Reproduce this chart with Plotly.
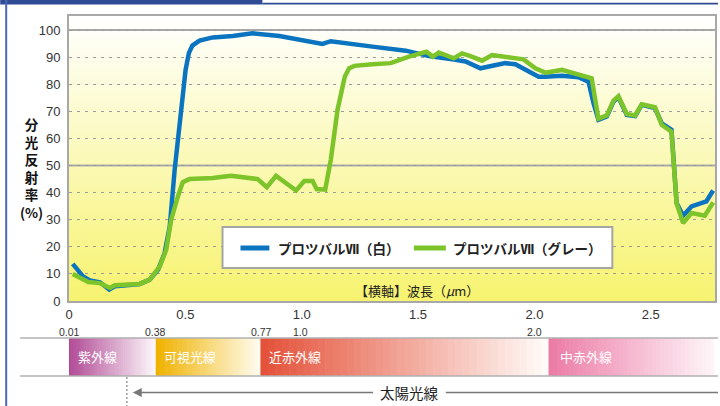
import plotly.graph_objects as go

# ---------------- data ----------------
wavelength_white = [0.016, 0.06, 0.09, 0.133, 0.173, 0.197, 0.247, 0.304, 0.347, 0.383, 0.411, 0.433,
                    0.454, 0.476, 0.501, 0.515, 0.53, 0.561, 0.618, 0.704, 0.789, 0.904, 1.004, 1.089,
                    1.125, 1.204, 1.304, 1.447, 1.547, 1.647, 1.704, 1.768, 1.818, 1.875, 1.918, 1.961,
                    2.018, 2.047, 2.118, 2.189, 2.232, 2.254, 2.275, 2.311, 2.34, 2.361, 2.397, 2.433,
                    2.461, 2.518, 2.547, 2.589, 2.611, 2.639, 2.675, 2.739, 2.768]
reflect_white = [13.7, 9.1, 7.6, 6.9, 4.2, 5.4, 5.8, 6.3, 7.9, 11.6, 17.7, 27.5,
                 48.4, 66.9, 85.3, 91.5, 94.3, 96.1, 97.3, 97.8, 98.8, 97.8, 96.3, 94.9,
                 95.9, 94.9, 93.9, 92.4, 90.4, 89.2, 88.4, 85.9, 86.8, 87.8, 87.4, 85.3,
                 82.8, 82.8, 83.1, 82.6, 81.0, 73.0, 66.9, 68.1, 73.6, 75.2, 68.7, 68.3,
                 72.4, 71.2, 65.6, 63.2, 36.2, 31.5, 34.9, 36.8, 40.8]

wavelength_gray = [0.016, 0.083, 0.133, 0.176, 0.197, 0.304, 0.347, 0.39, 0.418, 0.439, 0.468, 0.489,
                   0.518, 0.618, 0.696, 0.775, 0.811, 0.85, 0.89, 0.976, 1.011, 1.047, 1.064, 1.101,
                   1.125, 1.154, 1.185, 1.204, 1.226, 1.304, 1.382, 1.461, 1.536, 1.564, 1.589, 1.654,
                   1.689, 1.725, 1.775, 1.818, 1.953, 2.004, 2.047, 2.118, 2.204, 2.246, 2.275, 2.311,
                   2.34, 2.361, 2.397, 2.433, 2.461, 2.518, 2.547, 2.589, 2.611, 2.639, 2.675, 2.732, 2.768]
reflect_gray = [10.0, 7.0, 6.6, 4.8, 5.8, 6.3, 7.9, 12.8, 19.0, 30.0, 38.6, 43.9,
                45.0, 45.4, 46.2, 45.2, 45.0, 42.0, 46.2, 40.8, 44.3, 44.3, 41.3, 41.1,
                52.1, 70.6, 82.8, 85.9, 86.8, 87.4, 87.8, 90.2, 92.0, 90.2, 91.7, 89.6,
                91.4, 90.4, 88.7, 90.8, 89.2, 85.9, 84.3, 85.3, 83.4, 82.2, 67.3, 68.5,
                74.0, 75.6, 69.0, 68.5, 72.6, 71.5, 65.0, 62.5, 36.0, 28.8, 32.5, 31.5, 36.4]

series_names = ["プロツバルⅦ（白）", "プロツバルⅦ（グレー）"]
xtick_vals = [0, 0.5, 1.0, 1.5, 2.0, 2.5]
xtick_text = ["0", "0.5", "1.0", "1.5", "2.0", "2.5"]
ytick_vals = [0, 10, 20, 30, 40, 50, 60, 70, 80, 90, 100]
ytitle_chars = ["分", "光", "反", "射", "率", "(%)"]
band_names = ["紫外線", "可視光線", "近赤外線", "中赤外線"]
band_edge_labels = ["0.01", "0.38", "0.77", "1.0", "2.0"]
solar_label = "太陽光線"
xtitle = "【横軸】波長（<i>μ</i>m）"

# ---------------- layout geometry ----------------
W, H = 720, 406
L, R, T, B = 69, 3, 16, 105
PW, PH = W - L - R, H - T - B


def px(x):
    return (x - L) / PW


def py(y):
    return (H - B - y) / PH


JP = "Liberation Sans, Noto Sans CJK JP, sans-serif"
JPB = "Noto Sans CJK JP, sans-serif"

fig = go.Figure()
fig.add_trace(go.Scatter(x=wavelength_white, y=reflect_white, mode="lines", name=series_names[0],
                         line=dict(color="#0b74c0", width=4.5), showlegend=False))
fig.add_trace(go.Scatter(x=wavelength_gray, y=reflect_gray, mode="lines", name=series_names[1],
                         line=dict(color="#7dc32a", width=4.5), showlegend=False))

shapes = []


def lerp(c0, c1, t):
    return "rgb(%d,%d,%d)" % tuple(round(a + (b - a) * t) for a, b in zip(c0, c1))


# plot background vertical gradient
n = 80
for i in range(n):
    t = i / (n - 1)
    y0 = i / n
    y1 = (i + 1) / n + 0.004
    shapes.append(dict(type="rect", xref="paper", yref="paper", x0=0, x1=1, y0=y0, y1=min(y1, 1),
                       fillcolor=lerp((247, 243, 112), (255, 255, 255), t), line=dict(width=0),
                       layer="below"))
# solid gridlines at 50 and 100
for v in (50, 100):
    shapes.append(dict(type="line", xref="paper", yref="y", x0=0, x1=1, y0=v, y1=v,
                       line=dict(color="#a9a9a9", width=2), layer="below"))

# spectrum bands
band_px = [(69, 156), (156, 261), (261, 550), (550, 716)]
band_cols = [((178, 76, 150), (252, 246, 250)),
             ((240, 178, 0), (255, 252, 238)),
             ((228, 82, 58), (255, 250, 248)),
             ((236, 124, 166), (254, 244, 248))]
band_top, band_bot = 338.5, 375.5
for (a, b), (c0, c1) in zip(band_px, band_cols):
    m = 40
    for i in range(m):
        t = i / (m - 1)
        x0 = a + (b - a) * i / m
        x1 = a + (b - a) * (i + 1) / m + (0.6 if i < m - 1 else 0)
        shapes.append(dict(type="rect", xref="paper", yref="paper", x0=px(x0), x1=px(x1),
                           y0=py(band_bot), y1=py(band_top), fillcolor=lerp(c0, c1, t),
                           line=dict(width=0), layer="above"))
for yy in (338, 376):
    shapes.append(dict(type="line", xref="paper", yref="paper", x0=px(20), x1=px(720),
                       y0=py(yy), y1=py(yy), line=dict(color="#8a8a8a", width=1.2), layer="above"))

# solar arrow
shapes.append(dict(type="line", xref="paper", yref="paper", x0=px(138), x1=px(374),
                   y0=py(392.5), y1=py(392.5), line=dict(color="#777777", width=1.5), layer="above"))
shapes.append(dict(type="line", xref="paper", yref="paper", x0=px(447), x1=px(720),
                   y0=py(392.5), y1=py(392.5), line=dict(color="#777777", width=1.5), layer="above"))
shapes.append(dict(type="path", xref="paper", yref="paper",
                   path="M %f %f L %f %f L %f %f Z" % (px(133), py(392.5), px(142), py(388), px(142), py(397)),
                   fillcolor="#777777", line=dict(width=0), layer="above"))
shapes.append(dict(type="line", xref="paper", yref="paper", x0=px(127), x1=px(127),
                   y0=py(377), y1=py(406), line=dict(color="#9a9a9a", width=1.5, dash="2px,2px"),
                   layer="above"))

# frame decorations
shapes.append(dict(type="rect", xref="paper", yref="paper", x0=px(0), x1=px(263), y0=py(4.5), y1=py(0),
                   fillcolor="#2f4b95", line=dict(width=0), layer="above"))
shapes.append(dict(type="line", xref="paper", yref="paper", x0=px(263), x1=px(720), y0=py(3.6), y1=py(3.6),
                   line=dict(color="#2f4b95", width=1.6), layer="above"))
shapes.append(dict(type="line", xref="paper", yref="paper", x0=px(6), x1=px(6), y0=py(0), y1=py(406),
                   line=dict(color="#4d69b5", width=2), layer="above"))

# legend box
shapes.append(dict(type="rect", xref="paper", yref="paper", x0=px(223), x1=px(614), y0=py(268), y1=py(227),
                   fillcolor="white", line=dict(color="#a5a5a5", width=2), layer="above"))
shapes.append(dict(type="line", xref="paper", yref="paper", x0=px(241), x1=px(270), y0=py(248), y1=py(248),
                   line=dict(color="#0b74c0", width=5), layer="above"))
shapes.append(dict(type="line", xref="paper", yref="paper", x0=px(415), x1=px(447), y0=py(248), y1=py(248),
                   line=dict(color="#7dc32a", width=5), layer="above"))

ann = []
ann.append(dict(text="<b>" + series_names[0] + "</b>", x=px(277), y=py(248), xref="paper", yref="paper",
                xanchor="left", yanchor="middle", showarrow=False, font=dict(family=JPB, size=13.5, color="#222")))
ann.append(dict(text="<b>" + series_names[1] + "</b>", x=px(452), y=py(248), xref="paper", yref="paper",
                xanchor="left", yanchor="middle", showarrow=False, font=dict(family=JPB, size=13.5, color="#222")))

# y title stacked (one text, one character per line)
ann.append(dict(text="<b>" + "<br>".join(ytitle_chars) + "</b>", x=px(31), y=py(168), xref="paper",
                yref="paper", xanchor="center", yanchor="middle", showarrow=False,
                font=dict(family=JPB, size=13.5, color="#111")))

# x title inside plot
ann.append(dict(text=xtitle, x=px(354), y=py(290), xref="paper", yref="paper", xanchor="left",
                yanchor="middle", showarrow=False, font=dict(family=JPB, size=13, color="#222")))

# band edge labels
edge_px = [69.5, 155.5, 262.5, 301.5, 536]
for lab, xx in zip(band_edge_labels, edge_px):
    ann.append(dict(text=lab, x=px(xx), y=py(332), xref="paper", yref="paper", xanchor="center",
                    yanchor="middle", showarrow=False, font=dict(family=JP, size=10.5, color="#333")))

# band names
name_px = [76, 162, 268, 560]
for lab, xx in zip(band_names, name_px):
    ann.append(dict(text=lab, x=px(xx), y=py(356.5), xref="paper", yref="paper", xanchor="left",
                    yanchor="middle", showarrow=False, font=dict(family=JPB, size=13, color="white")))

ann.append(dict(text=solar_label, x=px(411), y=py(392.5), xref="paper", yref="paper", xanchor="center",
                yanchor="middle", showarrow=False, font=dict(family=JPB, size=14.5, color="#222")))

fig.update_layout(
    width=W, height=H,
    margin=dict(l=L, r=R, t=T, b=B, pad=0),
    paper_bgcolor="white", plot_bgcolor="rgba(0,0,0,0)",
    showlegend=False,
    shapes=shapes, annotations=ann,
    xaxis=dict(range=[0, 2.776], tickvals=xtick_vals, ticktext=xtick_text, showgrid=False, zeroline=False,
               showline=True, linecolor="#a8a8a8", linewidth=2, mirror=True, ticks="",
               ticklabelstandoff=0, tickfont=dict(family=JP, size=13, color="#333")),
    yaxis=dict(range=[0, 105.2], tickvals=ytick_vals, showgrid=True, gridcolor="#9c9c9c", gridwidth=1,
               griddash="3px,5px", zeroline=False, showline=True, linecolor="#a8a8a8", linewidth=2,
               mirror=True, ticks="", ticklabelstandoff=4, tickfont=dict(family=JP, size=13, color="#333")),
)

fig.write_html("out.html", config={"displayModeBar": False},
               post_script="document.body.style.margin='0px';document.body.style.overflow='hidden';")
